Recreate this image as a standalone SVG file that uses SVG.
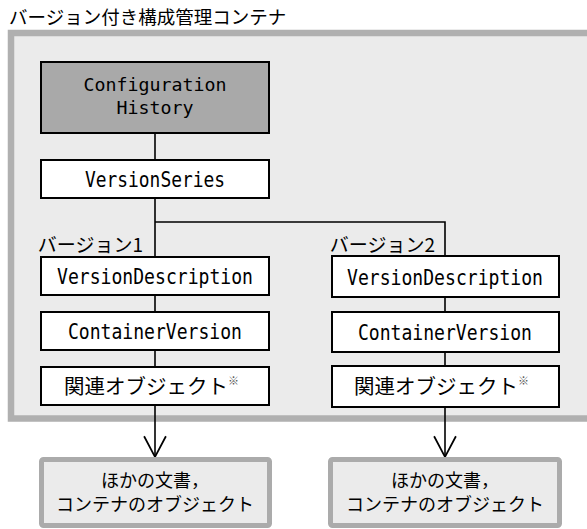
<svg xmlns="http://www.w3.org/2000/svg" width="587" height="529" viewBox="0 0 587 529">
<style>
.jp{font-family:"Noto Sans CJK JP","Noto Sans CJK SC",sans-serif;fill:#000}
.mono{font-family:"DejaVu Sans Mono","Liberation Mono",monospace;font-size:21px;fill:#000}
.box{fill:#fff;stroke:#000;stroke-width:2}
.ext{fill:#ebebeb;stroke:#ababab;stroke-width:5}
.ln{stroke:#000;stroke-width:1.6;fill:none}
</style>
<defs>
<marker id="arr" markerUnits="userSpaceOnUse" markerWidth="24" markerHeight="24" refX="20" refY="10" orient="auto" viewBox="0 0 22 20">
<path d="M1,0 L20,10 L1,20" fill="none" stroke="#000" stroke-width="1.6"/>
</marker>
</defs>
<text class="jp" x="9" y="24" font-size="18.5">バージョン付き構成管理コンテナ</text>
<g id="container">
<rect x="11" y="33" width="582" height="385.5" fill="#ebebeb" stroke="#b0b0b0" stroke-width="6.5"/>
</g>
<g id="connectors">
<line class="ln" x1="155" y1="133" x2="155" y2="160"/>
<line class="ln" x1="155" y1="198" x2="155" y2="257"/>
<polyline class="ln" points="155,222 445,222 445,256"/>
<line class="ln" x1="155" y1="295" x2="155" y2="312"/>
<line class="ln" x1="155" y1="350" x2="155" y2="367"/>
<line class="ln" x1="445" y1="297" x2="445" y2="312"/>
<line class="ln" x1="445" y1="352" x2="445" y2="366"/>
<line class="ln" x1="155" y1="405" x2="155" y2="457" marker-end="url(#arr)"/>
<line class="ln" x1="445" y1="407" x2="445" y2="457" marker-end="url(#arr)"/>
</g>
<g id="config-history">
<rect x="41" y="62" width="228" height="71" fill="#a9a9a9" stroke="#000" stroke-width="2"/>
<text class="mono" x="155" y="91" text-anchor="middle" font-size="18.5" style="font-size:18.5px" textLength="143" lengthAdjust="spacingAndGlyphs">Configuration</text>
<text class="mono" x="155" y="114" text-anchor="middle" font-size="18.5" style="font-size:18.5px" textLength="77" lengthAdjust="spacingAndGlyphs">History</text>
</g>
<g id="version-series">
<rect class="box" x="41" y="160" width="228" height="38"/>
<text class="mono" x="155" y="187" text-anchor="middle" textLength="140" lengthAdjust="spacingAndGlyphs">VersionSeries</text>
</g>
<g id="label-v1"><text class="jp" x="143" y="252" font-size="19" text-anchor="end">バージョン1</text></g>
<g id="label-v2"><text class="jp" x="435" y="252" font-size="19" text-anchor="end">バージョン2</text></g>
<g id="vd1">
<rect class="box" x="41" y="257" width="228" height="38"/>
<text class="mono" x="155" y="284" text-anchor="middle" textLength="196" lengthAdjust="spacingAndGlyphs">VersionDescription</text>
</g>
<g id="cv1">
<rect class="box" x="41" y="312" width="228" height="38"/>
<text class="mono" x="155" y="339" text-anchor="middle" textLength="174" lengthAdjust="spacingAndGlyphs">ContainerVersion</text>
</g>
<g id="ro1">
<rect class="box" x="41" y="367" width="228" height="38"/>
<text class="jp" x="64" y="394" font-size="20.5">関連オブジェクト<tspan font-size="11" dy="-9" fill="#555">※</tspan></text>
</g>
<g id="vd2">
<rect class="box" x="332" y="256" width="227" height="41"/>
<text class="mono" x="445" y="285" text-anchor="middle" textLength="196" lengthAdjust="spacingAndGlyphs">VersionDescription</text>
</g>
<g id="cv2">
<rect class="box" x="332" y="312" width="227" height="40"/>
<text class="mono" x="445" y="340" text-anchor="middle" textLength="174" lengthAdjust="spacingAndGlyphs">ContainerVersion</text>
</g>
<g id="ro2">
<rect class="box" x="332" y="366" width="227" height="41"/>
<text class="jp" x="354" y="394" font-size="20.5">関連オブジェクト<tspan font-size="11" dy="-9" fill="#555">※</tspan></text>
</g>
<g id="other1">
<rect class="ext" x="41.5" y="459.5" width="228" height="66" rx="2"/>
<text class="jp" x="155" y="487" font-size="18" text-anchor="middle">ほかの文書，</text>
<text class="jp" x="155" y="511" font-size="18" text-anchor="middle">コンテナのオブジェクト</text>
</g>
<g id="other2">
<rect class="ext" x="330.5" y="459.5" width="229" height="66" rx="2"/>
<text class="jp" x="445" y="487" font-size="18" text-anchor="middle">ほかの文書，</text>
<text class="jp" x="445" y="511" font-size="18" text-anchor="middle">コンテナのオブジェクト</text>
</g>
</svg>
